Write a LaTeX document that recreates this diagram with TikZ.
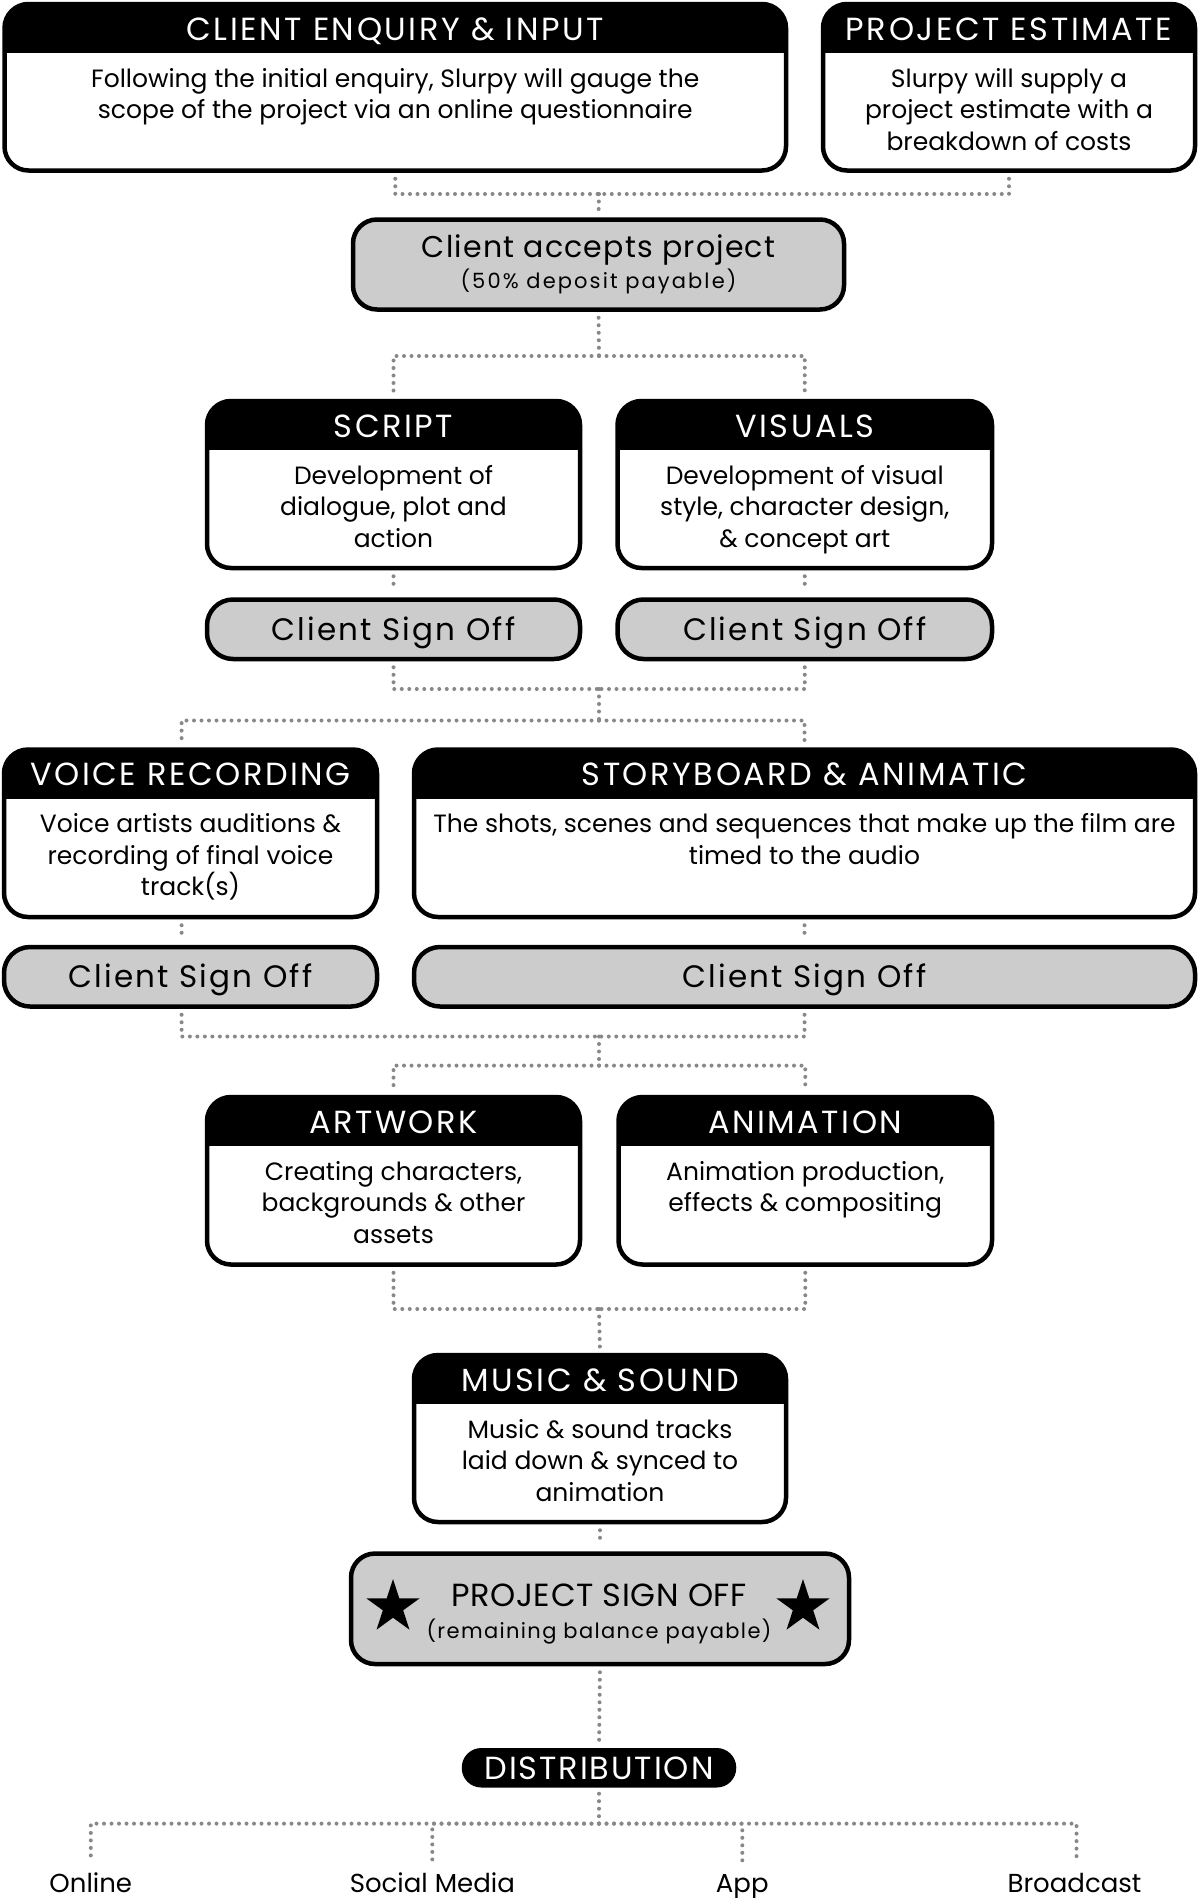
\documentclass[tikz,border=0pt]{standalone}
\usepackage{fontspec}
\setmainfont{Poppins}
\usetikzlibrary{shapes.geometric,calc}
\definecolor{dotgray}{HTML}{888888}
\definecolor{boxgray}{HTML}{CCCCCC}
\tikzset{
  stg/.style={draw=black, line width=4.5pt, rounded corners=24pt, fill=white, rectangle, inner sep=0pt,
    path picture={\fill[black, sharp corners] (path picture bounding box.north west) rectangle ([yshift=-49pt]path picture bounding box.north east);}},
  ttl/.style={text=white, inner sep=0pt, anchor=base, font=\fontsize{32}{38}\selectfont\addfontfeature{LetterSpace=8}},
  bdy/.style={text=black, inner sep=0pt, anchor=base, align=center, font=\fontsize{25}{31.5}\selectfont},
  sob/.style={draw=black, line width=4.5pt, rounded corners=26pt, fill=boxgray, rectangle, inner sep=0pt,
    text height=22pt, text depth=0pt, font=\fontsize{31}{36}\selectfont\addfontfeature{LetterSpace=7}},
  gbox/.style={draw=black, line width=4.5pt, rounded corners=24pt, fill=boxgray, rectangle, inner sep=0pt},
  gbig/.style={inner sep=0pt, anchor=base, font=\fontsize{30}{36}\selectfont\addfontfeature{LetterSpace=4}},
  gsmall/.style={inner sep=0pt, anchor=base, font=\fontsize{21}{26}\selectfont\addfontfeature{LetterSpace=10}},
  psmall/.style={inner sep=0pt, anchor=base, font=\fontsize{21}{26}\selectfont\addfontfeature{LetterSpace=6.5}},
  pbig/.style={inner sep=0pt, anchor=base, font=\fontsize{32}{38}\selectfont\addfontfeature{LetterSpace=2}},
  pill/.style={fill=black, rounded corners=19.5pt, rectangle, inner sep=0pt, text=white,
    text height=23pt, text depth=0pt, font=\fontsize{32}{38}\selectfont\addfontfeature{LetterSpace=6}},
  lbl/.style={inner sep=0pt, anchor=base, font=\fontsize{26}{32}\selectfont},
  dots/.style={draw=dotgray, line width=4pt, line cap=round, dash pattern=on 0pt off 7.5pt},
  starnode/.style={star, star points=5, star point ratio=2.618, fill=black, inner sep=0pt, minimum size=56pt}
}
% name, left, top, right, bottom, title, body, number of body lines
\newcommand\stage[8]{%
  \node[stg, minimum width={#4-#2}, minimum height={#5-#3}] (#1) at ({(#2+#4)/2},{(#3+#5)/2}) {};
  \node[ttl] (#1-t) at ({(#2+#4)/2},{#3+36}) {#6};
  \node[bdy] (#1-b) at ({(#2+#4)/2},{#3+83+(#8-1)*31.5}) {#7};
}
\newcommand\signoff[5]{%
  \node[sob, minimum width={#4-#2}, minimum height={#5-#3}] (#1) at ({(#2+#4)/2},{(#3+#5)/2}) {Client Sign Off};
}
\begin{document}
\begin{tikzpicture}[x=1pt,y=-1pt]
\fill[white] (0,0) rectangle (1200,1898);
\useasboundingbox (0,0) rectangle (1200,1898);

% row 1
\stage{enq}{4.5}{4}{786}{170.5}{CLIENT ENQUIRY \& INPUT}{Following the initial enquiry, Slurpy will gauge the\\scope of the project via an online questionnaire}{2}
\stage{est}{823}{4}{1195}{170.5}{PROJECT ESTIMATE}{Slurpy will supply a\\project estimate with a\\breakdown of costs}{3}

% client accepts
\node[gbox, minimum width={844-353}, minimum height={309.5-219.5}] (acc) at (598.5,264.5) {};
\node[gbig] (acc-a) at (598.5,257) {Client accepts project};
\node[gsmall] (acc-b) at (598.5,288) {(50\% deposit payable)};

% script / visuals
\stage{script}{207}{401}{580}{568}{SCRIPT}{Development of\\dialogue, plot and\\action}{3}
\stage{visuals}{617.5}{401}{992}{568}{VISUALS}{Development of visual\\style, character design,\\\& concept art}{3}
\signoff{so1}{207}{599.5}{580}{659}
\signoff{so2}{617.5}{599.5}{992}{659}

% voice / storyboard
\stage{voice}{4}{749.5}{377}{917}{VOICE RECORDING}{Voice artists auditions \&\\recording of final voice\\track(s)}{3}
\stage{story}{414}{749.5}{1195}{917}{STORYBOARD \& ANIMATIC}{The shots, scenes and sequences that make up the film are\\timed to the audio}{2}
\signoff{so3}{4}{947}{377}{1006.5}
\signoff{so4}{414}{947}{1195}{1006.5}

% artwork / animation
\stage{artwork}{207}{1097}{580}{1264.5}{ARTWORK}{Creating characters,\\backgrounds \& other\\assets}{3}
\stage{anim}{618.5}{1097}{992}{1264.5}{ANIMATION}{Animation production,\\effects \& compositing}{2}

% music
\stage{music}{414}{1355}{786}{1522}{MUSIC \& SOUND}{Music \& sound tracks\\laid down \& synced to\\animation}{3}

% project sign off
\node[gbox, minimum width={849-351}, minimum height={1664-1553.5}] (pso) at (600,1608.75) {};
\node[pbig] (pso-a) at (599,1606) {PROJECT SIGN OFF};
\node[psmall] (pso-b) at (599,1638) {(remaining balance payable)};
\node[starnode] (star1) at (393,1607) {};
\node[starnode] (star2) at (803,1607) {};

% distribution
\node[pill, minimum width={736.5-462}, minimum height=39.5] (dist) at (599,1767.75) {DISTRIBUTION};
\node[lbl] (l1) at (90.8,1892) {Online};
\node[lbl] (l2) at (432.3,1892) {Social Media};
\node[lbl] (l3) at (742.3,1892) {App};
\node[lbl] (l4) at (1074.5,1892) {Broadcast};

% junctions
\coordinate (j1) at (599,194);
\coordinate (j2) at (599,356);
\coordinate (j3) at (599,689);
\coordinate (j4) at (599,720.5);
\coordinate (j5) at (599,1036.5);
\coordinate (j6) at (599,1065.6);
\coordinate (j7) at (599,1309);
\coordinate (j8) at (599,1823.6);
\coordinate (vx) at (181.6,0);
\coordinate (bx) at (1076.5,0);

% connectors
\draw[dots, shorten <=6pt] (enq.south) |- (j1);
\draw[dots, shorten <=6pt] (est.south) |- (j1);
\draw[dots, shorten >=6pt] (j1) -- (acc.north);
\draw[dots, shorten <=6pt] (acc.south) -- (j2);
\draw[dots, shorten >=6pt] (j2) -| (script.north);
\draw[dots, shorten >=6pt] (j2) -| (visuals.north);
\draw[dots, shorten <=6pt, shorten >=6pt] (script.south) -- (so1.north);
\draw[dots, shorten <=6pt, shorten >=6pt] (visuals.south) -- (so2.north);
\draw[dots, shorten <=6pt] (so1.south) |- (j3);
\draw[dots, shorten <=6pt] (so2.south) |- (j3);
\draw[dots] (j3) -- (j4);
\draw[dots, shorten >=6pt] (j4) -| (voice.north -| vx);
\draw[dots, shorten >=6pt] (j4) -| (story.north);
\draw[dots, shorten <=6pt, shorten >=6pt] (voice.south -| vx) -- (so3.north -| vx);
\draw[dots, shorten <=6pt, shorten >=6pt] (story.south) -- (so4.north);
\draw[dots, shorten <=6pt] (so3.south -| vx) |- (j5);
\draw[dots, shorten <=6pt] (so4.south) |- (j5);
\draw[dots] (j5) -- (j6);
\draw[dots, shorten >=6pt] (j6) -| (artwork.north);
\draw[dots, shorten >=6pt] (j6) -| (anim.north);
\draw[dots, shorten <=6pt] (artwork.south) |- (j7);
\draw[dots, shorten <=6pt] (anim.south) |- (j7);
\draw[dots, shorten >=6pt] (j7) -- (music.north);
\draw[dots, shorten <=6pt, shorten >=6pt] (music.south) -- (pso.north);
\draw[dots, shorten <=6pt, shorten >=6pt] (pso.south) -- (dist.north);
\draw[dots, shorten <=6pt] (dist.south) -- (j8);
\draw[dots, shorten >=10pt] (j8) -| (l1.north);
\draw[dots, shorten >=10pt] (j8) -| (l2.north);
\draw[dots, shorten >=10pt] (j8) -| (l3.north);
\draw[dots, shorten >=10pt] (j8) -| (l4.north -| bx);
\end{tikzpicture}
\end{document}
